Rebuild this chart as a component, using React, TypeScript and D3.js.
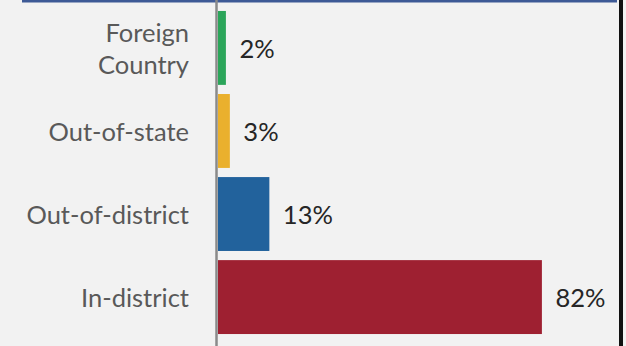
import React from "react";
import * as d3 from "d3";

const categories = ["Foreign Country", "Out-of-state", "Out-of-district", "In-district"];
const values = [2, 3, 13, 82];
const valueLabels = ["2%", "3%", "13%", "82%"];
const colors = ["#2ba55a", "#eab02d", "#22629c", "#9e2031"];

const W = 626;
const H = 346;

export default function App() {
  const x = d3.scaleLinear().domain([0, 100]).range([218, 613]);
  const y = d3
    .scaleBand<string>()
    .domain(categories)
    .range([6.4, 338.6])
    .paddingInner(0.11)
    .paddingOuter(0.055);

  const fs = 25.5;

  return (
    <svg
      width={W}
      height={H}
      style={{ position: "absolute", left: 0, top: 0, background: "#f2f2f2" }}
      fontFamily="Lato, 'Open Sans', sans-serif"
    >
      <rect x={0} y={0} width={W} height={H} fill="#f2f2f2" />
      <rect x={22} y={0} width={595} height={2.5} fill="#3e5a96" />
      <rect x={619} y={0} width={4} height={H} fill="#111" />
      {categories.map((c, i) => {
        const y0 = y(c)!;
        const bw = y.bandwidth();
        const cy = y0 + bw / 2;
        const lines = c === "Foreign Country" ? ["Foreign", "Country"] : [c];
        return (
          <g key={c}>
            <rect
              x={x(0)}
              y={y0}
              width={x(values[i]) - x(0)}
              height={bw}
              fill={colors[i]}
            />
            <text x={189} y={cy} textAnchor="end" fill="#595959" fontSize={fs}>
              {lines.map((l, j) => (
                <tspan
                  key={j}
                  x={189}
                  dy={j === 0 ? (lines.length === 1 ? "0.4em" : "-0.225em") : "1.25em"}
                >
                  {l}
                </tspan>
              ))}
            </text>
            <text
              x={x(values[i]) + 13.5}
              y={cy}
              dy="0.38em"
              fill="#262626"
              fontSize={fs}
            >
              {valueLabels[i]}
            </text>
          </g>
        );
      })}
      <line x1={216.5} x2={216.5} y1={0} y2={H} stroke="#8a8a8a" strokeWidth={2.5} />
    </svg>
  );
}
